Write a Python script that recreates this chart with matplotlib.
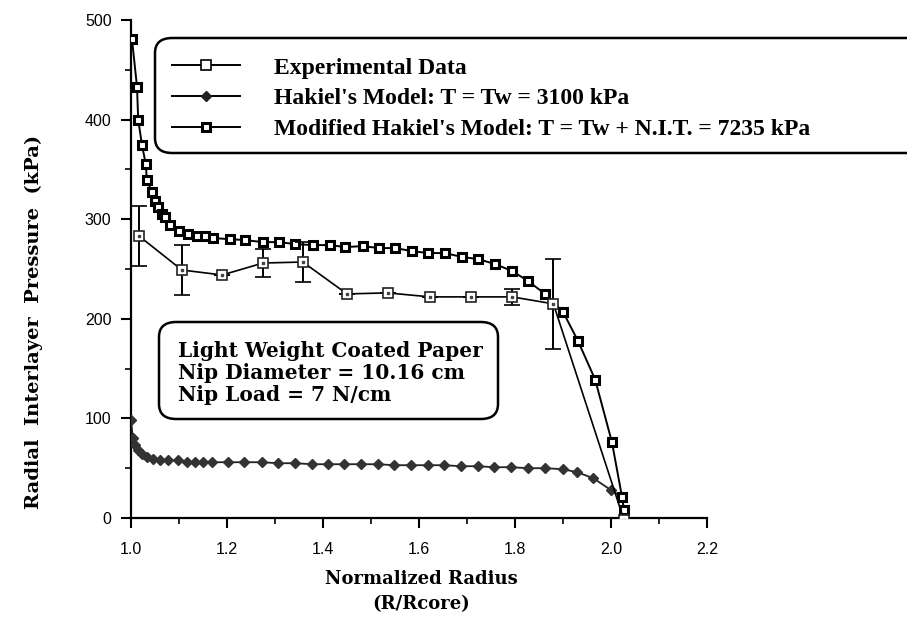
import matplotlib.pyplot as plt
from matplotlib.patches import FancyBboxPatch
from matplotlib.lines import Line2D
from matplotlib.ticker import MultipleLocator

# Experimental radial pressure with error bars
exp_r = [1.017, 1.106, 1.190, 1.275, 1.358, 1.450, 1.535, 1.623, 1.708, 1.794, 1.880, 2.027]
exp_p = [283, 249, 244, 256, 257, 225, 226, 222, 222, 222, 215, -2]
exp_err = [30, 25, 0, 14, 20, 0, 0, 0, 0, 8, 45, 0]

# Hakiel's model, T = Tw = 3100 kPa
hak_r = [1.000, 1.004, 1.008, 1.015, 1.023, 1.033, 1.046, 1.060, 1.077, 1.098,
         1.117, 1.133, 1.150, 1.169, 1.202, 1.235, 1.273, 1.306, 1.342, 1.377,
         1.410, 1.444, 1.479, 1.515, 1.548, 1.583, 1.619, 1.652, 1.688, 1.723,
         1.756, 1.792, 1.827, 1.863, 1.900, 1.929, 1.963, 2.000, 2.023, 2.027]
hak_p = [98, 80, 73, 68, 64, 61, 59, 58, 58, 58,
         56, 56, 56, 56, 56, 56, 56, 55, 55, 54,
         54, 54, 54, 54, 53, 53, 53, 53, 52, 52,
         51, 51, 50, 50, 49, 46, 40, 28, 21, 8]

# Modified Hakiel's model, T = Tw + N.I.T. = 7235 kPa
mod_r = [1.002, 1.0125, 1.015, 1.023, 1.031, 1.033, 1.044, 1.050, 1.056, 1.065,
         1.071, 1.081, 1.100, 1.119, 1.1375, 1.154, 1.171, 1.206, 1.2375, 1.275,
         1.308, 1.342, 1.379, 1.415, 1.446, 1.483, 1.517, 1.550, 1.585, 1.619,
         1.654, 1.690, 1.723, 1.758, 1.794, 1.827, 1.8625, 1.900, 1.931, 1.967,
         2.002, 2.023, 2.027]
mod_p = [481, 433, 400, 374, 355, 339, 327, 318, 312, 305,
         302, 294, 288, 285, 283, 283, 281, 280, 279, 277,
         277, 275, 274, 274, 272, 273, 271, 271, 268, 266,
         266, 262, 260, 255, 248, 238, 225, 207, 178, 139,
         76, 21, 8]

legend_labels = ["Experimental Data",
                 "Hakiel's Model: T = Tw = 3100 kPa",
                 "Modified Hakiel's Model: T = Tw + N.I.T. = 7235 kPa"]
note_lines = ["Light Weight Coated Paper", "Nip Diameter = 10.16 cm", "Nip Load = 7 N/cm"]

serif = ["DejaVu Serif"]
legend_font = ["Liberation Serif"]

fig = plt.figure(figsize=(9.07, 6.26), dpi=100)
ax = fig.add_axes([131 / 907, 1 - 518 / 626, 576 / 907, 498 / 626])

ax.plot(hak_r, hak_p, color="#222222", lw=1.3, marker="D", ms=4.8,
        mfc="#333333", mec="#333333", zorder=3)
ax.plot(mod_r, mod_p, color="black", lw=1.4, marker="s", ms=6,
        mfc="white", mec="black", mew=2.2, zorder=4)
ax.errorbar(exp_r, exp_p, yerr=exp_err, color="black", lw=1.2, marker="s", ms=7.5,
            mfc="white", mec="#222222", mew=1.2, capsize=6, capthick=1.4,
            elinewidth=1.4, zorder=5)
ax.plot(exp_r, exp_p, ls="none", marker="s", ms=1.5, color="#444444", zorder=6)

ax.set_xlim(1.0, 2.2)
ax.set_ylim(0, 500)
ax.xaxis.set_major_locator(MultipleLocator(0.2))
ax.xaxis.set_minor_locator(MultipleLocator(0.1))
ax.yaxis.set_major_locator(MultipleLocator(100))
ax.yaxis.set_minor_locator(MultipleLocator(50))
ax.xaxis.set_major_formatter(plt.FormatStrFormatter("%.1f"))
for side in ["top", "right"]:
    ax.spines[side].set_visible(False)
for side in ["left", "bottom"]:
    ax.spines[side].set_linewidth(1.6)
ax.tick_params(which="major", direction="out", length=7, width=1.5,
               labelsize=11.5, pad=7)
ax.tick_params(axis="x", which="major", pad=10)
ax.tick_params(which="minor", direction="out", length=4, width=1.2)
for lbl in ax.get_xticklabels() + ax.get_yticklabels():
    lbl.set_fontfamily("Liberation Sans")

ax.set_ylabel("Radial  Interlayer  Pressure  (kPa)", fontfamily=serif,
              fontweight="bold", fontsize=14)
ax.yaxis.set_label_coords(-0.152, 0.394)
fig.text(421 / 907, 1 - 592 / 626, "Normalized Radius\n(R/Rcore)", ha="center",
         va="center", fontfamily=serif, fontweight="bold", fontsize=13,
         linespacing=1.5)

# legend box running off the right edge
ax.add_patch(FancyBboxPatch((24 / 576, (518 - 153) / 498), 800 / 576, 115 / 498,
                            boxstyle="round,pad=0,rounding_size=0.03",
                            transform=ax.transAxes, fc="white", ec="black",
                            lw=1.8, clip_on=False, zorder=7))
handles = [
    Line2D([], [], color="black", lw=1.4, marker="s", ms=7, mfc="white", mec="black", mew=1.2),
    Line2D([], [], color="black", lw=1.4, marker="D", ms=5, mfc="#222222", mec="#222222"),
    Line2D([], [], color="black", lw=1.4, marker="s", ms=6, mfc="white", mec="black", mew=2.2),
]
leg = ax.legend(handles, legend_labels, loc="upper left",
                bbox_to_anchor=(41 / 576, (518 - 57) / 498), frameon=False,
                borderpad=0, borderaxespad=0,
                handlelength=2.9, handletextpad=1.4, labelspacing=0.4,
                prop={"family": legend_font, "weight": "bold", "size": 17})
leg.set_zorder(8)

# paper / nip annotation box
ax.add_patch(FancyBboxPatch((28 / 576, (518 - 419) / 498), 339 / 576, 97 / 498,
                            boxstyle="round,pad=0,rounding_size=0.03",
                            transform=ax.transAxes, fc="white", ec="black",
                            lw=1.8, zorder=7))
ax.text(47 / 576, (518 - 373) / 498, "\n".join(note_lines), transform=ax.transAxes,
        ha="left", va="center", fontfamily=serif, fontweight="bold", fontsize=14.5,
        linespacing=1.12, zorder=8)

fig.savefig("out.png", dpi=100)
